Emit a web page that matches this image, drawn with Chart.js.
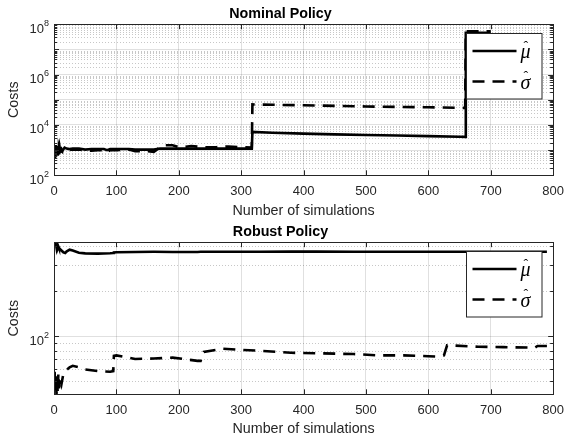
<!DOCTYPE html>
<html>
<head>
<meta charset="utf-8">
<script src="https://cdn.jsdelivr.net/npm/chart.js@4.4.1/dist/chart.umd.min.js"></script>
<style>
  html, body { margin: 0; padding: 0; background: #fff; }
  #wrap { position: relative; width: 572px; height: 441px; }
  canvas { position: absolute; left: 0; }
  #nominal { top: 0; }
  #robust { top: 220px; }
</style>
</head>
<body>
<div id="wrap">
  <canvas id="nominal" width="572" height="220"></canvas>
  <canvas id="robust" width="572" height="221"></canvas>
</div>
<script>
/* ── data ── */
const simsNominal  = [1,2,3,4,5,6,7,8,9,10,12,14,17,20,25,30,40,50,60,70,80,85,90,100,120,130,150,160,170,175,190,200,210,220,240,260,280,300,317,318,350,400,450,500,550,600,650,659,660,700];
const muNominal    = [450,1500,650,1300,800,1450,900,1200,950,1050,900,1000,1250,1150,1100,1150,1150,1050,1100,1100,1100,1000,1100,1100,1100,1050,1050,1050,1150,1150,1150,1150,1150,1150,1150,1150,1150,1150,1150,5300,4900,4500,4200,4000,3800,3600,3400,3350,45000000,45000000];
const sigmaNominal = [1200,500,1600,700,1300,600,1100,800,1300,900,1100,850,1000,1050,1000,1050,1050,950,950,1000,1000,800,1000,1000,1050,900,900,850,1300,1550,1550,1300,1350,1450,1300,1300,1400,1300,1250,65000,63000,60000,57000,54000,52000,50000,48000,47000,52000000,52000000];

const simsRobust  = [1,2,3,4,5,6,7,8,10,12,15,18,20,25,30,40,50,70,90,95,96,100,130,160,190,230,235,240,270,300,330,380,420,480,520,560,600,615,625,630,680,720,760,770,775,790];
const muRobust    = [423,400,415,390,405,385,395,385,380,372,362,358,366,377,372,360,356,355,357,358,361,362,364,365,364,364,365,365,365,365,365,366,366,365,365,365,365,365,365,365,365,365,365,365,365,365];
const sigmaRobust = [58,44,54,41,50,42,57,45,52,48,56,58,59.5,62,63.5,62,60,58.5,58,58.5,74,74.5,70.5,71,72,68.5,68.5,78.5,82.5,81,80,77.5,77,76,74.5,74.5,73.5,73,74.5,87,85,84.5,84,83.5,86,86];

const xTicks          = [0,100,200,300,400,500,600,700,800];
const yMajorNominal   = [1e2,1e3,1e4,1e5,1e6,1e7,1e8];
const yLabelExpNominal = [2,4,6,8];
const yMajorRobust    = [1e2];
const yLabelExpRobust  = [2];
const yRangeNominal   = [1e2, 1e8];
const yRangeRobust    = [41, 423];
const legendLabels    = ['μ', 'σ'];

/* ── helpers ── */
const SANS = '"Liberation Sans", Arial, Helvetica, sans-serif';
const SERIF = '"Liberation Serif", "DejaVu Serif", serif';
const INK = '#262626';

function minorsFor(lo, hi) {
  const out = [];
  for (let e = Math.floor(Math.log10(lo)); e <= Math.ceil(Math.log10(hi)); e++) {
    for (let m = 2; m <= 9; m++) {
      const v = m * Math.pow(10, e);
      if (v > lo && v < hi) out.push(v);
    }
  }
  return out;
}

const frame = {
  id: 'frame',
  beforeDatasetsDraw(chart, args, o) {
    const { ctx, chartArea: a, scales: { y } } = chart;
    ctx.save();
    ctx.strokeStyle = 'rgba(0,0,0,0.22)';
    ctx.lineWidth = 1;
    ctx.setLineDash([1, 2]);
    o.minor.forEach(v => {
      const py = Math.round(y.getPixelForValue(v)) + 0.5;
      ctx.beginPath(); ctx.moveTo(a.left, py); ctx.lineTo(a.right, py); ctx.stroke();
    });
    ctx.restore();
  },
  afterDatasetsDraw(chart, args, o) {
    const { ctx, chartArea: a, scales: { x, y } } = chart;
    ctx.save();
    ctx.strokeStyle = INK;
    ctx.lineWidth = 1;
    // inward ticks
    ctx.beginPath();
    xTicks.forEach(v => {
      const px = Math.round(x.getPixelForValue(v)) + 0.5;
      ctx.moveTo(px, a.bottom); ctx.lineTo(px, a.bottom - 5);
      ctx.moveTo(px, a.top); ctx.lineTo(px, a.top + 5);
    });
    o.major.forEach(v => {
      const py = Math.round(y.getPixelForValue(v)) + 0.5;
      ctx.moveTo(a.left, py); ctx.lineTo(a.left + 5, py);
      ctx.moveTo(a.right, py); ctx.lineTo(a.right - 5, py);
    });
    o.minor.forEach(v => {
      const py = Math.round(y.getPixelForValue(v)) + 0.5;
      ctx.moveTo(a.left, py); ctx.lineTo(a.left + 3, py);
      ctx.moveTo(a.right, py); ctx.lineTo(a.right - 3, py);
    });
    ctx.stroke();
    ctx.strokeRect(Math.round(a.left) + 0.5, Math.round(a.top) + 0.5,
                   Math.round(a.right - a.left), Math.round(a.bottom - a.top));
    // y tick labels 10^n
    ctx.fillStyle = INK;
    ctx.textBaseline = 'middle';
    o.labelExp.forEach(e => {
      const py = y.getPixelForValue(Math.pow(10, e));
      ctx.font = '13px ' + SANS;
      ctx.textAlign = 'right';
      ctx.fillText('10', a.left - 10, py + 5);
      ctx.font = '9px ' + SANS;
      ctx.textAlign = 'left';
      ctx.fillText(String(e), a.left - 10, py - 1);
    });
    ctx.restore();
  },
  afterDraw(chart) {
    const { ctx, chartArea: a } = chart;
    const w = 75.5, h = 65.5;
    const bx = Math.round(a.right - 12 - w) + 0.5, by = Math.round(a.top + 9) + 0.5;
    ctx.save();
    ctx.fillStyle = '#fff';
    ctx.fillRect(bx, by, w, h);
    ctx.strokeStyle = INK;
    ctx.lineWidth = 1;
    ctx.strokeRect(bx, by, w, h);
    const rows = [by + 17.5, by + 48];
    chart.data.datasets.forEach((ds, i) => {
      ctx.strokeStyle = ds.borderColor;
      ctx.lineWidth = ds.borderWidth;
      ctx.setLineDash(ds.borderDash || []);
      ctx.beginPath();
      ctx.moveTo(bx + 6, rows[i]); ctx.lineTo(bx + 50, rows[i]);
      ctx.stroke();
      ctx.setLineDash([]);
      ctx.fillStyle = '#000';
      ctx.textAlign = 'left';
      ctx.textBaseline = 'middle';
      ctx.font = 'italic 20px ' + SERIF;
      ctx.fillText(legendLabels[i], bx + 54, rows[i] + 2);
      ctx.font = '14px ' + SERIF;
      ctx.fillText('ˆ', bx + 57, rows[i] - 4);
    });
    ctx.restore();
  }
};

function makeChart(id, cfg) {
  return new Chart(document.getElementById(id), {
    type: 'line',
    data: {
      datasets: [
        { label: 'mu', data: cfg.sims.map((s, i) => ({ x: s, y: cfg.mu[i] })),
          borderColor: '#000', borderWidth: 2.6, pointRadius: 0, tension: 0 },
        { label: 'sigma', data: cfg.sims.map((s, i) => ({ x: s, y: cfg.sigma[i] })),
          borderColor: '#000', borderWidth: 2.6, borderDash: [12, 8], pointRadius: 0, tension: 0 }
      ]
    },
    options: {
      responsive: false,
      animation: false,
      devicePixelRatio: 1,
      layout: { padding: { left: 0, right: 11, top: 0, bottom: 0 } },
      scales: {
        x: {
          type: 'linear', min: 0, max: 800,
          afterBuildTicks: s => { s.ticks = xTicks.map(v => ({ value: v })); },
          afterFit: s => { s.height = cfg.xHeight; },
          grid: { color: 'rgba(0,0,0,0.12)', drawTicks: false },
          border: { display: false },
          ticks: { padding: 8, color: INK, font: { size: 13, family: SANS }, maxRotation: 0 },
          title: { display: true, text: 'Number of simulations', color: INK,
                   font: { size: 14.3, family: SANS }, padding: { top: 0, bottom: cfg.xTitlePad } }
        },
        y: {
          type: 'logarithmic', min: cfg.range[0], max: cfg.range[1],
          afterBuildTicks: s => { s.ticks = cfg.major.map(v => ({ value: v })); },
          afterFit: s => { s.width = 54; },
          grid: { color: 'rgba(0,0,0,0.12)', drawTicks: false },
          border: { display: false },
          ticks: { callback: () => '' },
          title: { display: true, text: 'Costs', color: INK,
                   font: { size: 14.3, family: SANS }, padding: { top: 5, bottom: 0 } }
        }
      },
      plugins: {
        legend: { display: false },
        tooltip: { enabled: false },
        title: { display: true, text: cfg.title, color: '#000',
                 font: { size: 14.3, weight: 'bold', family: SANS }, padding: cfg.titlePad },
        frame: { major: cfg.major, minor: minorsFor(cfg.range[0], cfg.range[1]), labelExp: cfg.labelExp }
      }
    },
    plugins: [frame]
  });
}

makeChart('nominal', {
  sims: simsNominal, mu: muNominal, sigma: sigmaNominal,
  range: yRangeNominal, major: yMajorNominal, labelExp: yLabelExpNominal,
  title: 'Nominal Policy', titlePad: { top: 5, bottom: 2 },
  xHeight: 44.7, xTitlePad: 0.4
});
makeChart('robust', {
  sims: simsRobust, mu: muRobust, sigma: sigmaRobust,
  range: yRangeRobust, major: yMajorRobust, labelExp: yLabelExpRobust,
  title: 'Robust Policy', titlePad: { top: 3.5, bottom: 1.5 },
  xHeight: 46.7, xTitlePad: 2.9
});
</script>
</body>
</html>
